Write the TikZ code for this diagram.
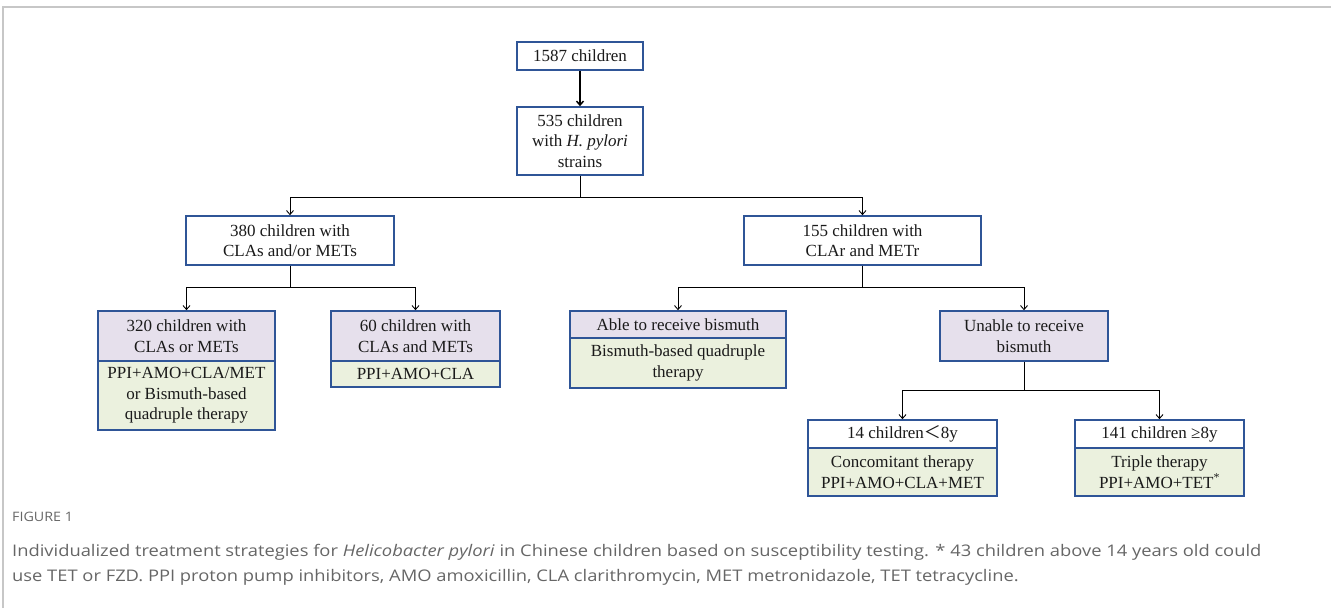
\documentclass[tikz,border=0pt]{standalone}
\usepackage{fontspec}
\setmainfont{Liberation Serif}
\newfontfamily\capfont{Open Sans}
\newfontfamily\cjk{Noto Sans CJK SC}
\usetikzlibrary{arrows.meta}
\definecolor{bblue}{HTML}{2F5597}
\definecolor{lav}{HTML}{E6E0EC}
\definecolor{lgreen}{HTML}{EBF1DE}
\definecolor{capgray}{HTML}{666666}
\definecolor{txt}{HTML}{1A1A1A}
\begin{document}
\begin{tikzpicture}[x=1pt,y=-1pt,
  box/.style={draw=bblue, line width=1.6pt, align=center, inner sep=0pt,
    font=\fontsize{17}{20.5}\selectfont, text=txt, fill=white},
  lavbox/.style={box, fill=lav},
  grnbox/.style={box, fill=lgreen},
  conn/.style={line width=0.9pt, -{Straight Barb[length=4pt,width=7pt]}},
  capt/.style={anchor=base west, inner sep=0pt, text=capgray, font=\capfont\fontsize{16}{19}\selectfont}
]
\useasboundingbox (0,0) rectangle (1331,608);
\draw[black!22, line width=1.2pt] (3,608) -- (3,7) -- (1331,7);

\node[box, minimum width=126pt, minimum height=28pt] (b1) at (580,56) {1587 children};
\node[box, minimum width=126pt, minimum height=68pt] (b2) at (580,141) {535 children\\with \textit{H. pylori}\\strains};
\node[box, minimum width=208pt, minimum height=49pt] (b3) at (290,240.5) {380 children with\\CLAs and/or METs};
\node[box, minimum width=237pt, minimum height=49pt] (b4) at (862.5,240.5) {155 children with\\CLAr and METr};

\node[lavbox, minimum width=177pt, minimum height=50pt] (b5t) at (186.5,336) {320 children with\\CLAs or METs};
\node[grnbox, minimum width=177pt, minimum height=69pt] (b5b) at (186.5,395.5) {PPI+AMO+CLA/MET\\or Bismuth-based\\quadruple therapy};

\node[lavbox, minimum width=169pt, minimum height=50pt] (b6t) at (415.5,336) {60 children with\\CLAs and METs};
\node[grnbox, minimum width=169pt, minimum height=26pt] (b6b) at (415.5,374) {PPI+AMO+CLA};

\node[lavbox, minimum width=216pt, minimum height=27pt] (b7t) at (678,324.5) {Able to receive bismuth};
\node[grnbox, minimum width=216pt, minimum height=50pt] (b7b) at (678,363) {Bismuth-based quadruple\\therapy};

\node[lavbox, minimum width=168pt, minimum height=50pt] (b8) at (1024,336) {Unable to receive\\bismuth};

\node[box, minimum width=189pt, minimum height=28pt] (b9t) at (902.5,434) {14 children{\cjk ＜}8y};
\node[grnbox, minimum width=189pt, minimum height=48pt] (b9b) at (902.5,472) {Concomitant therapy\\PPI+AMO+CLA+MET};

\node[box, minimum width=169pt, minimum height=28pt] (b10t) at (1159.5,434) {141 children ≥8y};
\node[grnbox, minimum width=169pt, minimum height=48pt] (b10b) at (1159.5,472) {Triple therapy\\PPI+AMO+TET\textsuperscript{*}};

\draw[conn, line width=1.5pt] (b1) -- (b2);
\draw[conn] (b2.south) -- ++(0,22) -| (b3.north);
\draw[conn] (b2.south) -- ++(0,22) -| (b4.north);
\draw[conn] (b3.south) -- ++(0,22) -| (b5t.north);
\draw[conn] (b3.south) -- ++(0,22) -| (b6t.north);
\draw[conn] (b4.south) -- ++(0,22) -| (b7t.north);
\draw[conn] (b4.south) -- ++(0,22) -| (b8.north);
\draw[conn] (b8.south) -- ++(0,29) -| (b9t.north);
\draw[conn] (b8.south) -- ++(0,29) -| (b10t.north);

\node[capt, font=\capfont\fontsize{13}{15}\selectfont] (fig) at (12,521) {\scalebox{1.1}[1]{FIGURE 1}};
\node[capt] (cap1) at (12,556) {\scalebox{1.146}[1]{Individualized treatment strategies for \textit{Helicobacter pylori} in Chinese children based on susceptibility testing. * 43 children above 14 years old could}};
\node[capt] (cap2) at (12,581) {\scalebox{1.146}[1]{use TET or FZD. PPI proton pump inhibitors, AMO amoxicillin, CLA clarithromycin, MET metronidazole, TET tetracycline.}};
\end{tikzpicture}
\end{document}
